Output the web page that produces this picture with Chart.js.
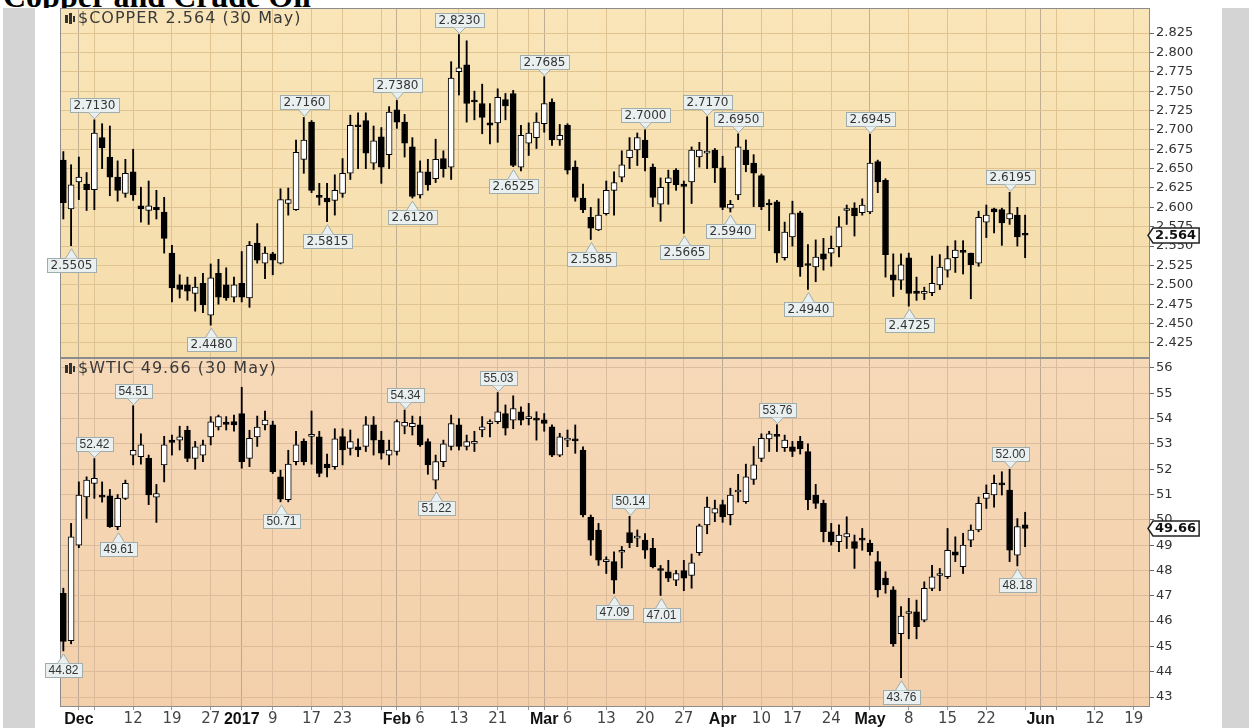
<!DOCTYPE html>
<html lang="en">

<head>
    <meta charset="UTF-8">
    <title>Copper and Crude Oil</title>
    <script src="https://cdn.jsdelivr.net/npm/chart.js"></script>
    <style>
        html, body { margin: 0; padding: 0; background: #fff; }
        body { width: 1249px; height: 728px; position: relative; overflow: hidden; }
        #titulo { position: absolute; left: 3px; top: -20px; font: bold 32px/32px "Liberation Serif", serif; color: #000; white-space: nowrap; }
        #quadro { position: absolute; left: 0; top: 8px; width: 1249px; height: 720px; background: #fff; }
        .faixa { position: absolute; top: 0; height: 720px; background: #d4d4d4; }
        .esq { left: 3px; width: 32px; }
        .dir { left: 1222px; width: 27px; }
        #graficoCobre { position: absolute; left: 0; top: 0; }
        #graficoPetroleo { position: absolute; left: 0; top: 358px; }
    </style>
</head>

<body>
    <div id="titulo">Copper and Crude Oil</div>
    <div id="quadro">
        <div class="faixa esq"></div>
        <div class="faixa dir"></div>
    </div>
    <canvas id="graficoCobre" width="1249" height="360"></canvas>
    <canvas id="graficoPetroleo" width="1249" height="370"></canvas>

<script>
    // pregões de 29 Nov 2016 (índice 0) até 30 May 2017 (índice 124)

    // $COPPER
    const cobreAbre = [
        2.661, 2.598, 2.633, 2.630, 2.623, 2.690, 2.665, 2.639, 2.618, 2.646,
        2.602, 2.596, 2.600, 2.594, 2.541, 2.500, 2.500, 2.489, 2.502, 2.461,
        2.515, 2.500, 2.484, 2.502, 2.483, 2.554, 2.528, 2.540, 2.528, 2.605,
        2.597, 2.662, 2.710, 2.614, 2.612, 2.609, 2.618, 2.644, 2.706, 2.712,
        2.657, 2.691, 2.668, 2.726, 2.710, 2.678, 2.616, 2.646, 2.637, 2.663,
        2.652, 2.775, 2.784, 2.737, 2.734, 2.709, 2.709, 2.739, 2.747, 2.652,
        2.683, 2.690, 2.708, 2.736, 2.687, 2.706, 2.652, 2.612, 2.587, 2.571,
        2.592, 2.622, 2.639, 2.664, 2.674, 2.687, 2.652, 2.604, 2.632, 2.648,
        2.630, 2.633, 2.665, 2.670, 2.674, 2.651, 2.599, 2.616, 2.674, 2.657,
        2.641, 2.604, 2.607, 2.535, 2.562, 2.593, 2.527, 2.523, 2.540, 2.541,
        2.549, 2.596, 2.599, 2.593, 2.594, 2.659, 2.635, 2.513, 2.506, 2.535,
        2.492, 2.489, 2.490, 2.500, 2.519, 2.535, 2.544, 2.541, 2.528, 2.581,
        2.598, 2.597, 2.585, 2.590, 2.566
    ];
    const cobreMax = [
        2.672, 2.655, 2.665, 2.645, 2.713, 2.708, 2.705, 2.660, 2.662, 2.675,
        2.626, 2.634, 2.622, 2.613, 2.551, 2.513, 2.510, 2.510, 2.515, 2.527,
        2.533, 2.522, 2.510, 2.543, 2.556, 2.579, 2.549, 2.542, 2.624, 2.625,
        2.687, 2.716, 2.712, 2.631, 2.631, 2.642, 2.663, 2.719, 2.722, 2.722,
        2.705, 2.703, 2.730, 2.738, 2.720, 2.690, 2.660, 2.662, 2.688, 2.673,
        2.788, 2.823, 2.815, 2.750, 2.759, 2.734, 2.753, 2.747, 2.751, 2.706,
        2.709, 2.722, 2.7685, 2.740, 2.707, 2.708, 2.660, 2.630, 2.600, 2.611,
        2.634, 2.646, 2.673, 2.690, 2.696, 2.700, 2.656, 2.638, 2.648, 2.650,
        2.634, 2.678, 2.684, 2.717, 2.676, 2.666, 2.609, 2.695, 2.687, 2.668,
        2.643, 2.610, 2.609, 2.581, 2.608, 2.595, 2.552, 2.558, 2.560, 2.563,
        2.588, 2.603, 2.606, 2.611, 2.6945, 2.661, 2.637, 2.540, 2.540, 2.541,
        2.510, 2.497, 2.537, 2.539, 2.550, 2.557, 2.557, 2.541, 2.595, 2.603,
        2.599, 2.599, 2.6195, 2.600, 2.590
    ];
    const cobreMin = [
        2.585, 2.5505, 2.610, 2.596, 2.597, 2.650, 2.615, 2.608, 2.613, 2.609,
        2.581, 2.578, 2.585, 2.541, 2.478, 2.483, 2.480, 2.466, 2.464, 2.448,
        2.475, 2.480, 2.478, 2.478, 2.471, 2.528, 2.508, 2.513, 2.527, 2.590,
        2.596, 2.644, 2.619, 2.603, 2.5815, 2.590, 2.613, 2.636, 2.650, 2.650,
        2.649, 2.631, 2.650, 2.702, 2.665, 2.612, 2.612, 2.622, 2.632, 2.639,
        2.636, 2.745, 2.710, 2.713, 2.695, 2.682, 2.684, 2.713, 2.6525, 2.647,
        2.667, 2.676, 2.697, 2.680, 2.680, 2.643, 2.608, 2.593, 2.5585, 2.570,
        2.590, 2.590, 2.633, 2.650, 2.654, 2.647, 2.601, 2.582, 2.604, 2.622,
        2.5665, 2.605, 2.652, 2.650, 2.632, 2.597, 2.594, 2.610, 2.646, 2.601,
        2.597, 2.570, 2.529, 2.532, 2.550, 2.511, 2.494, 2.504, 2.519, 2.524,
        2.536, 2.578, 2.563, 2.590, 2.592, 2.619, 2.510, 2.485, 2.494, 2.4725,
        2.480, 2.481, 2.486, 2.494, 2.510, 2.516, 2.514, 2.482, 2.524, 2.561,
        2.567, 2.551, 2.578, 2.550, 2.535
    ];
    const cobreFecha = [
        2.606, 2.629, 2.639, 2.623, 2.696, 2.677, 2.639, 2.622, 2.644, 2.616,
        2.598, 2.602, 2.597, 2.560, 2.496, 2.494, 2.492, 2.497, 2.474, 2.509,
        2.484, 2.483, 2.500, 2.484, 2.551, 2.532, 2.541, 2.532, 2.610, 2.610,
        2.671, 2.687, 2.622, 2.613, 2.607, 2.622, 2.644, 2.706, 2.704, 2.670,
        2.686, 2.652, 2.723, 2.710, 2.683, 2.614, 2.646, 2.629, 2.662, 2.650,
        2.767, 2.780, 2.734, 2.736, 2.716, 2.706, 2.742, 2.731, 2.654, 2.693,
        2.696, 2.710, 2.734, 2.687, 2.693, 2.648, 2.613, 2.597, 2.573, 2.590,
        2.622, 2.632, 2.655, 2.674, 2.690, 2.664, 2.613, 2.626, 2.638, 2.629,
        2.627, 2.674, 2.674, 2.671, 2.651, 2.600, 2.604, 2.678, 2.655, 2.644,
        2.601, 2.603, 2.541, 2.568, 2.592, 2.523, 2.525, 2.536, 2.533, 2.547,
        2.575, 2.597, 2.589, 2.603, 2.657, 2.633, 2.539, 2.506, 2.526, 2.489,
        2.489, 2.491, 2.502, 2.523, 2.534, 2.545, 2.542, 2.526, 2.587, 2.590,
        2.594, 2.580, 2.592, 2.562, 2.564
    ];

    // $WTIC
    const petroAbre = [
        47.10, 45.23, 49.00, 50.91, 51.44, 50.95, 50.95, 49.73, 50.85, 52.56,
        52.50, 52.43, 50.90, 52.17, 53.15, 53.15, 53.54, 52.43, 52.56, 53.28,
        53.67, 53.86, 53.88, 54.20, 52.43, 53.28, 53.75, 53.75, 51.70, 50.80,
        52.30, 53.10, 53.30, 53.28, 52.20, 52.10, 53.29, 52.82, 52.89, 52.90,
        53.75, 53.15, 52.56, 52.70, 53.70, 53.68, 53.75, 53.09, 51.57, 52.30,
        52.90, 53.75, 52.90, 53.02, 53.55, 53.80, 53.88, 54.20, 53.94, 54.27,
        54.00, 53.95, 53.95, 53.68, 52.56, 53.15, 53.15, 52.76, 50.10, 49.60,
        48.35, 48.35, 48.72, 49.50, 49.28, 49.20, 48.87, 48.05, 47.95, 47.62,
        48.00, 47.80, 48.70, 49.80, 50.26, 50.60, 50.20, 51.10, 50.72, 51.60,
        52.43, 53.20, 53.35, 52.85, 52.89, 53.10, 52.70, 50.98, 50.65, 49.53,
        49.14, 49.33, 49.14, 49.23, 49.07, 48.35, 47.70, 47.23, 45.50, 46.30,
        46.37, 46.04, 47.29, 47.80, 47.75, 48.74, 48.15, 49.20, 49.60, 50.85,
        50.98, 51.40, 51.18, 48.60, 49.80
    ];
    const petroMax = [
        47.30, 49.86, 51.50, 51.70, 52.42, 51.50, 51.20, 51.00, 51.57, 54.51,
        53.40, 52.56, 51.40, 53.30, 53.35, 53.70, 53.70, 53.10, 53.15, 54.08,
        54.14, 54.08, 54.14, 55.24, 53.54, 54.10, 54.30, 53.90, 51.96, 52.75,
        53.50, 53.20, 54.30, 53.50, 52.60, 53.60, 53.60, 53.55, 53.20, 54.08,
        54.08, 53.50, 53.15, 53.95, 54.34, 54.10, 54.08, 53.20, 52.56, 53.15,
        54.14, 54.00, 53.35, 53.50, 54.08, 53.95, 55.03, 54.54, 54.90, 54.47,
        54.60, 54.27, 54.20, 53.75, 53.42, 53.55, 53.75, 52.89, 50.19, 49.86,
        48.54, 48.74, 48.95, 50.14, 49.60, 49.46, 49.27, 48.20, 48.40, 48.00,
        48.40, 48.65, 49.83, 50.90, 50.78, 50.78, 51.25, 51.80, 52.20, 52.90,
        53.40, 53.50, 53.76, 53.35, 53.10, 53.30, 53.00, 51.40, 50.78, 49.86,
        49.80, 50.12, 49.40, 49.66, 49.20, 48.75, 47.95, 47.36, 46.57, 46.90,
        46.83, 47.55, 48.20, 48.08, 49.66, 49.33, 49.47, 49.80, 50.90, 51.38,
        51.77, 51.90, 52.00, 50.05, 50.30
    ];
    const petroMin = [
        44.82, 45.10, 48.90, 50.06, 50.85, 50.70, 49.70, 49.61, 50.80, 52.17,
        52.20, 50.60, 49.90, 51.50, 52.56, 52.76, 52.30, 52.00, 52.30, 52.96,
        53.55, 53.55, 53.50, 52.04, 52.10, 52.90, 53.55, 51.83, 50.71, 50.71,
        52.17, 52.17, 52.20, 51.70, 51.70, 52.00, 52.17, 52.56, 52.50, 52.70,
        52.56, 52.40, 52.17, 52.56, 53.40, 53.35, 52.90, 51.80, 51.22, 52.10,
        52.76, 52.76, 52.76, 52.70, 53.28, 53.28, 53.80, 53.35, 53.60, 53.75,
        53.75, 53.15, 53.50, 52.50, 52.50, 52.89, 52.63, 50.12, 48.60, 48.20,
        47.88, 47.09, 48.10, 48.90, 48.94, 48.48, 48.10, 47.01, 47.56, 47.40,
        47.20, 47.30, 48.60, 49.45, 49.93, 49.90, 49.80, 50.70, 50.65, 51.40,
        52.30, 52.70, 52.70, 52.70, 52.50, 52.60, 50.40, 50.45, 49.13, 49.00,
        48.74, 48.87, 48.08, 48.80, 48.60, 46.95, 47.10, 45.00, 43.76, 45.30,
        45.30, 45.97, 47.20, 47.20, 47.68, 48.35, 47.88, 48.94, 49.53, 50.45,
        50.50, 50.98, 48.35, 48.18, 48.94
    ];
    const petroFecha = [
        45.20, 49.33, 50.98, 51.57, 51.64, 50.90, 49.73, 50.85, 51.44, 52.75,
        52.96, 50.98, 51.04, 52.96, 53.06, 53.28, 52.43, 52.89, 52.96, 53.87,
        54.08, 53.77, 53.75, 52.30, 53.22, 53.67, 53.94, 51.90, 50.82, 52.20,
        52.96, 52.30, 53.35, 51.83, 52.05, 53.20, 52.76, 53.09, 52.76, 53.75,
        53.15, 52.63, 52.76, 53.88, 53.85, 53.81, 52.96, 52.17, 52.30, 53.00,
        53.80, 52.90, 53.09, 53.09, 53.68, 53.83, 54.27, 53.62, 54.40, 53.94,
        54.01, 53.94, 53.81, 52.56, 53.28, 53.20, 53.12, 50.19, 49.20, 48.41,
        48.38, 47.62, 48.76, 49.10, 49.30, 48.80, 48.15, 48.00, 47.70, 47.88,
        47.70, 48.30, 49.76, 50.50, 50.45, 50.12, 50.98, 51.12, 51.70, 52.17,
        53.22, 53.40, 53.30, 53.15, 52.70, 52.80, 50.80, 50.65, 49.53, 49.14,
        49.40, 49.46, 48.87, 49.20, 48.74, 47.23, 47.43, 45.10, 46.20, 46.35,
        45.78, 47.29, 47.75, 47.84, 48.80, 48.60, 49.00, 49.60, 50.65, 51.05,
        51.44, 51.38, 48.80, 49.73, 49.66
    ];

    // máximas/mínimas marcadas no gráfico ('a' = acima, 'b' = abaixo)
    const marcasCobre = [1, 4, 19, 31, 34, 43, 45, 51, 58, 62, 68, 75, 80, 83, 86, 87, 96, 104, 109, 122];
    const ladosCobre = ['b', 'a', 'b', 'a', 'b', 'a', 'b', 'a', 'b', 'a', 'b', 'a', 'b', 'a', 'b', 'a', 'b', 'a', 'b', 'a'];
    const marcasPetro = [0, 4, 7, 9, 28, 44, 48, 56, 71, 73, 77, 92, 108, 122, 123];
    const ladosPetro = ['b', 'a', 'b', 'a', 'b', 'a', 'b', 'a', 'b', 'a', 'b', 'a', 'b', 'a', 'b'];

    // eixo x (índice do pregão) e rótulos
    const marcasX = [2, 4, 9, 14, 19, 23, 27, 32, 36, 41, 43, 46, 51, 56, 60, 62, 65, 70, 75, 80, 85, 90, 94, 99, 104, 109, 114, 119, 124, 126, 128, 133, 138];
    const rotulosX = ['Dec', '', '12', '19', '27', '2017', '9', '17', '23', '', 'Feb', '6', '13', '21', '', 'Mar', '6', '13', '20', '27', 'Apr', '10', '17', '24', 'May', '8', '15', '22', '', 'Jun', '', '12', '19'];
    const meses = [2, 23, 43, 62, 85, 104, 126];

    const escalaCobre = [2.425, 2.450, 2.475, 2.500, 2.525, 2.550, 2.575, 2.600, 2.625, 2.650, 2.675, 2.700, 2.725, 2.750, 2.775, 2.800, 2.825];
    const escalaPetro = [43, 44, 45, 46, 47, 48, 49, 50, 51, 52, 53, 54, 55, 56];


    function ehMes(label) {
        return label !== '' && (isNaN(label) || label === '2017');
    }

    function desenharMarcas(chart, idxs, lados, maxs, mins, casas, fonte) {
        const ctx = chart.ctx;
        const sx = chart.scales.x, sy = chart.scales.y;
        ctx.save();
        ctx.font = fonte;
        ctx.textAlign = 'center';
        ctx.textBaseline = 'middle';
        idxs.forEach(function (i, k) {
            const acima = lados[k] == 'a';
            const v = acima ? maxs[i] : mins[i];
            const px = Math.round(sx.getPixelForValue(i)) + 0.5;
            const py = sy.getPixelForValue(v);
            const txt = v.toFixed(casas);
            const w = Math.round(ctx.measureText(txt).width) + 7;
            const h = 14;
            let topo, base, ponta;
            if (acima) { base = Math.round(py - 8) + 0.5; topo = base - h; ponta = py - 1; }
            else { base = Math.round(py + 12) + 0.5; topo = base; ponta = py + 3; }
            const esq = Math.round(px - w / 2) + 0.5;
            ctx.fillStyle = '#eaf0f0';
            ctx.strokeStyle = '#9fadad';
            ctx.lineWidth = 1;
            ctx.fillRect(esq, topo, w, h);
            ctx.strokeRect(esq, topo, w, h);
            ctx.beginPath();
            ctx.moveTo(px - 6, base);
            ctx.lineTo(px, ponta);
            ctx.lineTo(px + 6, base);
            ctx.closePath();
            ctx.fill();
            ctx.beginPath();
            ctx.moveTo(px - 6, base);
            ctx.lineTo(px, ponta);
            ctx.lineTo(px + 6, base);
            ctx.stroke();
            ctx.fillStyle = '#333';
            ctx.fillText(txt, px, topo + h / 2 + 0.5);
        });
        ctx.restore();
    }

    function etiquetaValor(chart, valor, texto) {
        const ctx = chart.ctx;
        const a = chart.chartArea;
        const y = Math.round(chart.scales.y.getPixelForValue(valor)) + 0.5;
        ctx.save();
        ctx.font = 'bold 13px "DejaVu Sans"';
        const w = ctx.measureText(texto).width + 5;
        const x0 = a.right - 2, x1 = x0 + 5, h = 7.5;
        ctx.beginPath();
        ctx.moveTo(x0, y);
        ctx.lineTo(x1, y - h);
        ctx.lineTo(x1 + w, y - h);
        ctx.lineTo(x1 + w, y + h);
        ctx.lineTo(x1, y + h);
        ctx.closePath();
        ctx.fillStyle = '#fff';
        ctx.fill();
        ctx.lineWidth = 1.5;
        ctx.strokeStyle = '#222';
        ctx.stroke();
        ctx.fillStyle = '#111';
        ctx.textBaseline = 'middle';
        ctx.fillText(texto, x1 + 2, y + 0.5);
        ctx.restore();
    }

    function legendaPainel(chart, texto, y) {
        const ctx = chart.ctx;
        ctx.save();
        // iconezinho
        ctx.fillStyle = '#333';
        ctx.fillRect(65, y - 4, 3, 8);
        ctx.fillRect(69, y - 6, 3, 11);
        ctx.fillRect(73, y - 3, 2, 6);
        ctx.font = '16px "DejaVu Sans"';
        ctx.letterSpacing = '1px';
        ctx.fillStyle = '#3a3a3a';
        ctx.textBaseline = 'middle';
        ctx.fillText(texto, 78, y);
        ctx.restore();
    }

    function painelPlugin(cores, desenho) {
        return {
            id: 'painel',
            beforeDraw(chart) {
                const ctx = chart.ctx, a = chart.chartArea;
                const g = ctx.createLinearGradient(0, a.top, 0, a.bottom);
                g.addColorStop(0, cores[0]);
                g.addColorStop(1, cores[1]);
                ctx.save();
                ctx.fillStyle = g;
                ctx.fillRect(a.left, a.top, a.right - a.left, a.bottom - a.top);
                ctx.restore();
            },
            beforeDatasetsDraw(chart) {
                const ctx = chart.ctx, a = chart.chartArea;
                ctx.save();
                ctx.strokeStyle = '#8c8c8c';
                ctx.lineWidth = 1;
                ctx.strokeRect(a.left + 0.5, a.top + 0.5, a.right - a.left - 1, a.bottom - a.top - 1);
                ctx.restore();
            },
            afterDraw(chart) {
                desenho(chart);
            }
        };
    }

    function montarVelas(abre, max, min, fecha) {
        const corpo = abre.map((o, i) => ({ x: i, y: [o, fecha[i]] }));
        const pavio = abre.map((o, i) => ({ x: i, y: [min[i], max[i]] }));
        return [
            {
                label: 'corpo', data: corpo, order: 0, grouped: false,
                backgroundColor: c => fecha[c.dataIndex] >= abre[c.dataIndex] ? '#ffffff' : '#000000',
                borderColor: '#000', borderWidth: 1, borderSkipped: false,
                barThickness: 6, minBarLength: 2
            },
            {
                label: 'pavio', data: pavio, order: 1, grouped: false,
                backgroundColor: '#000', borderWidth: 0, barThickness: 1.2
            }
        ];
    }

    function opcoesEixoX(mostrarRotulos, corMes, corSemana) {
        return {
            type: 'linear', min: -0.43, max: 140.1, offset: false,
            afterBuildTicks: s => { s.ticks = marcasX.map(v => ({ value: v })); },
            afterFit: s => { s.height = mostrarRotulos ? 21 : 0; s.paddingLeft = 0; s.paddingRight = 0; },
            ticks: {
                display: mostrarRotulos, autoSkip: false, maxRotation: 0, padding: 0,
                callback: v => rotulosX[marcasX.indexOf(v)],
                font: c => ehMes(c.tick ? c.tick.label : '') ? { family: 'Liberation Sans', size: 16, weight: 'bold' } : { family: 'DejaVu Sans', size: 15 },
                color: c => ehMes(c.tick ? c.tick.label : '') ? '#111' : '#444'
            },
            grid: {
                offset: false, drawTicks: mostrarRotulos, tickLength: 3, tickColor: '#999',
                color: c => meses.includes(c.tick && c.tick.value) ? corMes : corSemana
            },
            border: { display: false }
        };
    }

    function opcoesEixoY(escala, casas, min, max, corGrade) {
        return {
            position: 'right', min: min, max: max,
            afterBuildTicks: s => { s.ticks = escala.map(v => ({ value: v })); },
            afterFit: s => { s.width = 70; s.paddingTop = 0; s.paddingBottom = 0; },
            ticks: {
                padding: 2, color: '#333',
                font: { family: 'DejaVu Sans', size: 13 },
                callback: v => Number(v).toFixed(casas)
            },
            grid: { color: corGrade, tickColor: '#666', tickLength: 4 },
            border: { display: false }
        };
    }

    const ultimo = cobreFecha.length - 1;

    new Chart(document.getElementById('graficoCobre'), {
        type: 'bar',
        data: { datasets: montarVelas(cobreAbre, cobreMax, cobreMin, cobreFecha) },
        options: {
            responsive: false,
            animation: false,
            layout: { padding: { left: 60, top: 8, right: 29, bottom: 2 } },
            plugins: { legend: { display: false }, tooltip: { enabled: false } },
            scales: {
                x: opcoesEixoX(false, '#bfae92', '#dfc391'),
                y: opcoesEixoY(escalaCobre, 3, 2.4056, 2.8573, '#dfc391')
            }
        },
        plugins: [painelPlugin(['#f9e5b8', '#f5dcab'], function (chart) {
            desenharMarcas(chart, marcasCobre, ladosCobre, cobreMax, cobreMin, 4, '12px "DejaVu Sans"');
            legendaPainel(chart, '$COPPER ' + cobreFecha[ultimo].toFixed(3) + ' (30 May)', 19);
            etiquetaValor(chart, cobreFecha[ultimo], cobreFecha[ultimo].toFixed(3));
        })]
    });

    new Chart(document.getElementById('graficoPetroleo'), {
        type: 'bar',
        data: { datasets: montarVelas(petroAbre, petroMax, petroMin, petroFecha) },
        options: {
            responsive: false,
            animation: false,
            layout: { padding: { left: 60, top: 0, right: 29, bottom: 0 } },
            plugins: { legend: { display: false }, tooltip: { enabled: false } },
            scales: {
                x: opcoesEixoX(true, '#bea792', '#dcbc9d'),
                y: opcoesEixoY(escalaPetro, 0, 42.605, 56.395, '#dcbc9d')
            }
        },
        plugins: [painelPlugin(['#f6d9b8', '#f3d0ab'], function (chart) {
            desenharMarcas(chart, marcasPetro, ladosPetro, petroMax, petroMin, 2, '12px "Liberation Sans"');
            legendaPainel(chart, '$WTIC ' + petroFecha[ultimo].toFixed(2) + ' (30 May)', 11);
            etiquetaValor(chart, petroFecha[ultimo], petroFecha[ultimo].toFixed(2));
        })]
    });
</script>
</body>

</html>
